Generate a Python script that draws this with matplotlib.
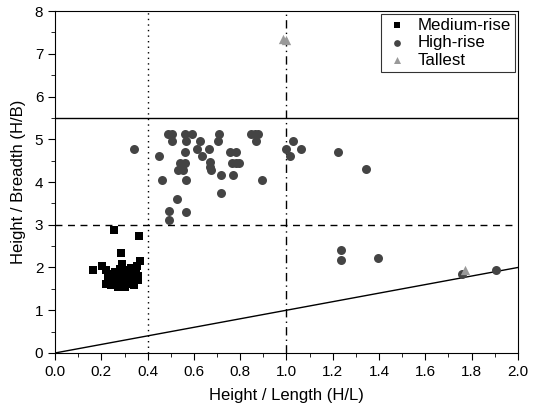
import matplotlib
matplotlib.use('Agg')
import matplotlib.pyplot as plt
from matplotlib.ticker import MultipleLocator

plt.rcParams['font.family'] = ['Liberation Sans', 'DejaVu Sans']

# medium-rise buildings
med_x = [0.165, 0.201, 0.255, 0.361, 0.286, 0.368, 0.352, 0.29,
         0.22, 0.23, 0.24, 0.22, 0.24, 0.26, 0.26, 0.27, 0.28, 0.28,
         0.29, 0.30, 0.30, 0.31, 0.32, 0.32, 0.33, 0.34, 0.34, 0.35,
         0.36, 0.36, 0.25, 0.27, 0.31, 0.23, 0.33]
med_y = [1.93, 2.03, 2.88, 2.74, 2.33, 2.16, 2.04, 2.07,
         1.95, 1.85, 1.75, 1.62, 1.58, 1.68, 1.90, 1.80, 1.97, 1.60,
         1.72, 1.85, 1.55, 1.95, 1.65, 1.78, 1.90, 1.70, 1.58, 1.85,
         1.70, 1.80, 1.62, 1.55, 1.62, 1.70, 1.98]

# high-rise buildings
high_x = [0.489, 0.504, 0.561, 0.590, 0.709, 0.845, 0.863, 0.877,
          0.506, 0.565, 0.626, 0.702, 0.870,
          0.342, 0.450, 0.561, 0.612, 0.665, 0.755, 0.781, 0.637,
          0.539, 0.561, 0.532, 0.554, 0.547, 0.669, 0.670, 0.672, 0.763, 0.781, 0.795,
          0.460, 0.564, 0.719, 0.770, 0.892, 0.715, 0.525, 0.493, 0.565, 0.493,
          1.000, 1.014, 1.029, 1.062, 1.223, 1.342,
          1.237, 1.237, 1.395, 1.760, 1.906]
high_y = [5.13, 5.13, 5.13, 5.13, 5.13, 5.13, 5.13, 5.13,
          4.95, 4.95, 4.95, 4.95, 4.95,
          4.77, 4.60, 4.71, 4.77, 4.77, 4.71, 4.71, 4.60,
          4.44, 4.44, 4.29, 4.29, 4.36, 4.46, 4.36, 4.28, 4.44, 4.44, 4.44,
          4.05, 4.05, 4.17, 4.17, 4.05, 3.74, 3.61, 3.33, 3.29, 3.11,
          4.77, 4.60, 4.95, 4.77, 4.71, 4.30,
          2.42, 2.18, 2.22, 1.84, 1.94]

# tallest buildings
tall_x = [0.985, 1.0, 1.771]
tall_y = [7.35, 7.33, 1.93]

fig = plt.figure(figsize=(5.35, 4.09), dpi=100)
ax = fig.add_axes([0.103, 0.137, 0.865, 0.836])

ax.axhline(5.5, color='black', lw=1.0)
ax.axhline(3.0, color='black', lw=1.0, ls=(0, (5, 4)))
ax.axvline(0.4, color='black', lw=1.0, ls=(0, (1, 3)))
ax.axvline(1.0, color='black', lw=1.0, ls=(0, (6, 3, 1, 3)))
ax.plot([0, 2], [0, 2], color='black', lw=1.0)

ax.scatter(med_x, med_y, marker='s', s=32, color='black', lw=0, label='Medium-rise', zorder=3)
ax.scatter(high_x, high_y, marker='o', s=42, color='#444444', lw=0, label='High-rise', zorder=3)
ax.scatter(tall_x, tall_y, marker='^', s=45, color='#999999', lw=0, label='Tallest', zorder=4)

ax.set_xlim(0, 2)
ax.set_ylim(0, 8)
ax.xaxis.set_major_locator(MultipleLocator(0.2))
ax.xaxis.set_minor_locator(MultipleLocator(0.1))
ax.yaxis.set_major_locator(MultipleLocator(1))
ax.yaxis.set_minor_locator(MultipleLocator(0.5))
ax.tick_params(which='major', direction='out', length=5, labelsize=11)
ax.tick_params(which='minor', direction='out', length=3)
ax.set_xlabel('Height / Length (H/L)', fontsize=12, labelpad=7)
ax.set_ylabel('Height / Breadth (H/B)', fontsize=12, labelpad=6)

leg = ax.legend(loc='upper right', fontsize=12.2, frameon=True, fancybox=False,
                edgecolor='black', borderaxespad=0.15, handletextpad=0.5,
                labelspacing=0.15, borderpad=0.25, handlelength=1.4,
                markerscale=0.75)
leg.get_frame().set_linewidth(0.8)

fig.savefig('out.png', dpi=100)
